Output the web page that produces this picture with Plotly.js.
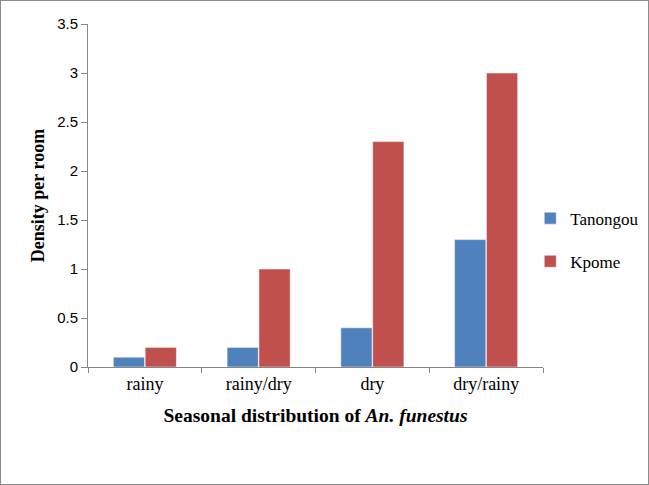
<!DOCTYPE html>
<html>
<head>
<meta charset="utf-8">
<script src="https://cdn.plot.ly/plotly-3.0.1.min.js"></script>
<style>
html,body{margin:0;padding:0;background:#fff;}
#chart{width:649px;height:485px;box-sizing:border-box;border:1px solid #8c8c8c;}
</style>
</head>
<body>
<div id="chart"></div>
<script>
const categories = ["rainy", "rainy/dry", "dry", "dry/rainy"];
const tanongou = [0.1, 0.2, 0.4, 1.3];
const kpome = [0.2, 1.0, 2.3, 3.0];
const yTicks = [0, 0.5, 1, 1.5, 2, 2.5, 3, 3.5];
const yTickLabels = ["0", "0.5", "1", "1.5", "2", "2.5", "3", "3.5"];

const serif = "Liberation Serif, DejaVu Serif, serif";

const traces = [
  {type: "bar", name: "Tanongou", x: categories, y: tanongou,
   legendgroup: "a",
   marker: {color: "#4F81BD", line: {color: "#ffffff", width: 0.5}}},
  {type: "bar", name: "Kpome", x: categories, y: kpome,
   legendgroup: "b",
   marker: {color: "#C0504D", line: {color: "#ffffff", width: 0.5}}}
];

const layout = {
  width: 647, height: 483,
  margin: {l: 87, r: 105, t: 23, b: 117, autoexpand: false},
  paper_bgcolor: "#ffffff",
  plot_bgcolor: "#ffffff",
  barmode: "group",
  bargap: 0.44,
  bargroupgap: 0.02,
  showlegend: true,
  legend: {
    x: 0.972, xanchor: "left", y: 0.37, yanchor: "middle",
    font: {family: serif, size: 17, color: "#000"},
    traceorder: "grouped", tracegroupgap: 18,
    bgcolor: "rgba(0,0,0,0)"
  },
  xaxis: {
    type: "category",
    tickson: "boundaries",
    ticks: "outside", ticklen: 5, tickcolor: "#868686",
    showline: true, linecolor: "#868686", linewidth: 1,
    showgrid: false, zeroline: false,
    tickfont: {family: serif, size: 18, color: "#000"},
    title: {text: "<b>Seasonal distribution of <i>An. funestus</i></b>",
            font: {family: serif, size: 19.5, color: "#000"}, standoff: 15}
  },
  yaxis: {
    range: [0, 3.5],
    tickvals: yTicks, ticktext: yTickLabels,
    ticks: "outside", ticklen: 6, tickcolor: "#868686",
    showline: true, linecolor: "#868686", linewidth: 1,
    showgrid: false, zeroline: false,
    tickfont: {family: "Liberation Sans, Arial, sans-serif", size: 15, color: "#000"},
    title: {text: "<b>Density per room</b>",
            font: {family: serif, size: 18, color: "#000"}, standoff: 7}
  }
};

Plotly.newPlot("chart", traces, layout, {displayModeBar: false, staticPlot: true});
</script>
</body>
</html>
